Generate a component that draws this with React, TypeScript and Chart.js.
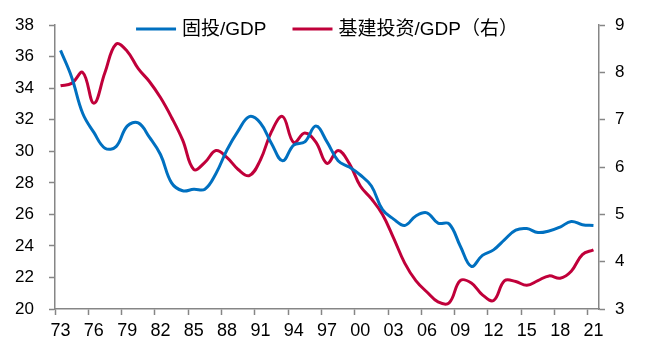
import React, { useEffect, useRef } from "react";
import { Chart, registerables } from "chart.js";

Chart.register(...registerables);

const years: string[] = [
  "73","74","75","76","77","78","79","80","81","82",
  "83","84","85","86","87","88","89","90","91","92",
  "93","94","95","96","97","98","99","00","01","02",
  "03","04","05","06","07","08","09","10","11","12",
  "13","14","15","16","17","18","19","20","21",
];

const fixedInvGdp: number[] = [
  36.4, 34.7, 32.4, 31.2, 30.2, 30.3, 31.6, 31.8, 30.9, 29.8,
  28.0, 27.5, 27.6, 27.6, 28.6, 30.1, 31.3, 32.2, 31.8, 30.5,
  29.4, 30.4, 30.6, 31.6, 30.6, 29.4, 29.0, 28.5, 27.8, 26.3,
  25.7, 25.3, 25.9, 26.1, 25.45, 25.4, 24.0, 22.7, 23.4, 23.75,
  24.4, 25.0, 25.1, 24.85, 24.95, 25.2, 25.55, 25.35, 25.3,
];

const infraInvGdp: number[] = [
  7.72, 7.77, 8.0, 7.35, 8.0, 8.6, 8.45, 8.08, 7.81, 7.47,
  7.05, 6.57, 5.95, 6.1, 6.35, 6.2, 5.95, 5.82, 6.15, 6.75,
  7.07, 6.52, 6.72, 6.53, 6.08, 6.35, 6.08, 5.6, 5.33, 5.0,
  4.5, 3.97, 3.6, 3.36, 3.15, 3.13, 3.6, 3.55, 3.3, 3.18,
  3.6, 3.58, 3.5, 3.6, 3.7, 3.65, 3.8, 4.15, 4.25,
];

const leftTicks = { min: 20, max: 38, step: 2 };
const rightTicks = { min: 3, max: 9, step: 1 };

const BLUE = "#0070C0";
const RED = "#C0003A";
const AXIS = "#868686";
const FONT = '"Liberation Sans", Arial, "Noto Sans CJK SC", sans-serif';

const legendPlugin = {
  id: "floatLegend",
  afterDraw(chart: any) {
    const ctx = chart.ctx;
    const ds = chart.data.datasets;
    const fontSize = 19;
    const lineLen = 40;
    const gap = 6;
    const itemGap = 26;
    const y = 29;
    ctx.save();
    ctx.font = `${fontSize}px ${FONT}`;
    const widths = ds.map((d: any) => lineLen + gap + ctx.measureText(d.label).width);
    const total = widths.reduce((a: number, b: number) => a + b, 0) + itemGap * (ds.length - 1);
    const center = (chart.chartArea.left + chart.chartArea.right) / 2;
    let x = center - total / 2;
    ds.forEach((d: any, i: number) => {
      ctx.strokeStyle = d.borderColor;
      ctx.lineWidth = 3;
      ctx.beginPath();
      ctx.moveTo(x, y);
      ctx.lineTo(x + lineLen, y);
      ctx.stroke();
      ctx.fillStyle = "#000";
      ctx.textBaseline = "middle";
      ctx.textAlign = "left";
      ctx.fillText(d.label, x + lineLen + gap, y + 1);
      x += widths[i] + itemGap;
    });
    ctx.restore();
  },
};

export default function App() {
  const ref = useRef<HTMLCanvasElement | null>(null);
  useEffect(() => {
    if (!ref.current) return;
    const chart = new Chart(ref.current, {
      type: "line",
      data: {
        labels: years,
        datasets: [
          {
            label: "固投/GDP",
            data: fixedInvGdp,
            borderColor: BLUE,
            backgroundColor: BLUE,
            borderWidth: 3,
            pointRadius: 0,
            tension: 0.4,
            yAxisID: "y",
          },
          {
            label: "基建投资/GDP（右）",
            data: infraInvGdp,
            borderColor: RED,
            backgroundColor: RED,
            borderWidth: 3,
            pointRadius: 0,
            tension: 0.4,
            yAxisID: "y1",
          },
        ],
      },
      options: {
        responsive: false,
        animation: false,
        layout: { padding: { top: 23, left: 0, right: 0, bottom: 0 } },
        plugins: { legend: { display: false }, tooltip: { enabled: false } },
        scales: {
          x: {
            type: "category",
            offset: true,
            afterFit: (s: any) => { s.height = 47; },
            grid: {
              offset: true,
              drawOnChartArea: false,
              drawTicks: true,
              tickLength: 6,
              tickWidth: 1.5,
              tickColor: (c: any) => (typeof c.index === "number" && c.index % 3 === 0 ? AXIS : "rgba(0,0,0,0)"),
            },
            border: { color: AXIS, width: 1.5 },
            ticks: {
              autoSkip: false,
              maxRotation: 0,
              minRotation: 0,
              padding: 5,
              color: "#000",
              font: { size: 18, family: FONT },
              callback: (_v: any, i: number) => (i % 3 === 0 ? years[i] : ""),
            },
          },
          y: {
            position: "left",
            min: leftTicks.min,
            max: leftTicks.max,
            afterFit: (s: any) => { s.width = 55; },
            grid: { drawOnChartArea: false, tickLength: 6, tickWidth: 1.5, tickColor: AXIS },
            border: { color: AXIS, width: 1.5 },
            ticks: {
              stepSize: leftTicks.step,
              padding: 15,
              color: "#000",
              font: { size: 17, family: FONT },
            },
          },
          y1: {
            position: "right",
            min: rightTicks.min,
            max: rightTicks.max,
            afterFit: (s: any) => { s.width = 46; },
            grid: { drawOnChartArea: false, tickLength: 6, tickWidth: 1.5, tickColor: AXIS },
            border: { color: AXIS, width: 1.5 },
            ticks: {
              stepSize: rightTicks.step,
              padding: 10,
              color: "#000",
              font: { size: 17, family: FONT },
            },
          },
        },
      },
      plugins: [legendPlugin],
    });
    return () => chart.destroy();
  }, []);
  return (
    <div style={{ position: "absolute", left: 0, top: 0, width: 645, height: 356, background: "#fff" }}>
      <canvas ref={ref} width={645} height={356} style={{ display: "block" }} />
    </div>
  );
}
